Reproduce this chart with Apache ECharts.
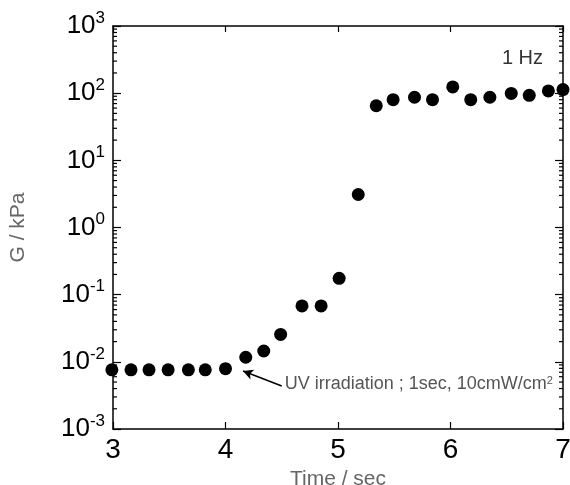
<!DOCTYPE html>
<html><head><meta charset="utf-8">
<script src="https://cdn.jsdelivr.net/npm/echarts@6/dist/echarts.min.js"></script>
<style>html,body{margin:0;padding:0;background:#fff}#c{width:570px;height:485px}</style>
</head><body><div id="c"></div>
<script>
// Data
const time = [2.99, 3.16, 3.32, 3.49, 3.67, 3.82, 4.0, 4.18, 4.34, 4.49, 4.68, 4.85, 5.01, 5.18, 5.34, 5.49, 5.68, 5.84, 6.02, 6.18, 6.35, 6.54, 6.70, 6.87, 7.0];
const modulus = [0.0076, 0.0076, 0.0076, 0.0076, 0.0076, 0.0076, 0.0079, 0.0117, 0.0145, 0.0256, 0.068, 0.068, 0.175, 3.1, 65, 80, 87, 80, 124, 80, 87, 99, 93, 108, 113];
const xRange = [3, 7];
const yRange = [0.001, 1000];
const minorMultipliers = [2, 3, 4, 5, 6, 7, 8, 9];
const decades = [0.001, 0.01, 0.1, 1, 10, 100];
const annotationText = 'UV irradiation ; 1sec, 10cmW/cm';
const arrowFrom = [4.50, 0.00437];
const arrowTo = [4.156, 0.0073];
const freqLabel = '1 Hz';

const points = time.map((t, i) => [t, modulus[i]]);
const minorVals = [];
decades.forEach(d => minorMultipliers.forEach(m => minorVals.push(d * m)));
const minorData = [];
minorVals.forEach(v => { minorData.push([xRange[0], v, 1]); minorData.push([xRange[1], v, -1]); });

const chart = echarts.init(document.getElementById('c'), null, {renderer: 'canvas'});
const font = 'Liberation Sans, Arial, sans-serif';
const axisLine = {show: true, lineStyle: {color: '#000', width: 1.5}};
chart.setOption({
  animation: false,
  backgroundColor: '#fff',
  grid: {left: 113, right: 7, top: 26, bottom: 56, containLabel: false, outerBoundsMode: 'none'},
  xAxis: [{
    type: 'value', min: xRange[0], max: xRange[1], interval: 1, position: 'bottom',
    name: 'Time / sec', nameLocation: 'middle', nameGap: 34,
    nameTextStyle: {fontFamily: font, fontSize: 21, color: '#666'},
    axisLine, axisTick: {inside: true, length: 7, lineStyle: {color: '#000', width: 1.2}},
    axisLabel: {fontFamily: font, fontSize: 28, color: '#000', margin: 7},
    splitLine: {show: false}
  }, {
    type: 'value', min: xRange[0], max: xRange[1], interval: 1, position: 'top',
    axisLine, axisTick: {inside: true, length: 6, lineStyle: {color: '#000', width: 1.2}},
    axisLabel: {show: false}, splitLine: {show: false}
  }],
  yAxis: [{
    type: 'log', logBase: 10, min: yRange[0], max: yRange[1], splitNumber: 6, position: 'left',
    name: 'G / kPa', nameLocation: 'middle', nameGap: 84, nameRotate: 90,
    nameTextStyle: {fontFamily: font, fontSize: 21, color: '#666'},
    axisLine, axisTick: {inside: true, length: 8, lineStyle: {color: '#000', width: 1.2}},
    axisLabel: {
      margin: 8,
      formatter: v => '{b|10}{s|' + Math.round(Math.log10(v)) + '}',
      rich: {
        b: {fontFamily: font, fontSize: 26, color: '#000'},
        s: {fontFamily: font, fontSize: 17, color: '#000', padding: [0, 0, 16, 0]}
      }
    },
    splitLine: {show: false}
  }, {
    type: 'log', logBase: 10, min: yRange[0], max: yRange[1], splitNumber: 6, position: 'right',
    axisLine, axisTick: {inside: true, length: 8, lineStyle: {color: '#000', width: 1.2}},
    axisLabel: {show: false}, splitLine: {show: false}
  }],
  series: [{
    type: 'custom', xAxisIndex: 0, yAxisIndex: 0, clip: false, silent: true,
    data: minorData,
    renderItem: (params, api) => {
      const p = api.coord([api.value(0), api.value(1)]);
      const dir = api.value(2);
      return {type: 'line', shape: {x1: p[0], y1: p[1], x2: p[0] + dir * 4, y2: p[1]},
        style: {stroke: '#000', lineWidth: 1.2}};
    }
  }, {
    type: 'scatter', xAxisIndex: 0, yAxisIndex: 0, data: points, symbol: 'circle', symbolSize: 13,
    itemStyle: {color: '#000', opacity: 1}, clip: false,
    markLine: {
      silent: true, animation: false,
      symbol: ['none', 'arrow'], symbolSize: [8, 10],
      lineStyle: {color: '#000', width: 1.5, type: 'solid', opacity: 1},
      label: {show: false},
      data: [[{coord: arrowFrom}, {coord: arrowTo}]]
    }
  }]
});

const ann = chart.convertToPixel({xAxisIndex: 0, yAxisIndex: 0}, arrowFrom);
chart.setOption({
  graphic: [{
    type: 'text', left: ann[0] + 3, top: ann[1] - 11,
    style: {
      text: '{t|' + annotationText + '}{s|2}',
      rich: {t: {fontFamily: font, fontSize: 18, fill: '#555'}, s: {fontFamily: font, fontSize: 11, fill: '#555', padding: [0, 0, 7, 0]}}
    }
  }, {
    type: 'text', right: 27, top: 48,
    style: {text: freqLabel, fontFamily: font, fontSize: 20, fill: '#333'}
  }]
});
</script></body></html>
